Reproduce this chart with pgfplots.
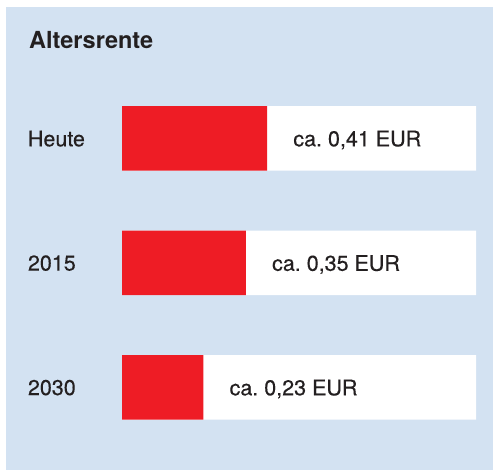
\documentclass[border=0pt]{standalone}
\usepackage{pgfplots}
\pgfplotsset{compat=1.18}
\usepackage{fontspec}
\setmainfont{TeX Gyre Heros}
\newfontfamily\medfont[FakeBold=0.35]{TeX Gyre Heros}
\definecolor{panel}{HTML}{D3E2F2}
\definecolor{rentred}{HTML}{EE1C25}
\definecolor{txt}{HTML}{231F20}

\begin{document}
\begin{tikzpicture}
\useasboundingbox (-6pt,0pt) rectangle (487pt,470pt);
\begin{axis}[
  at={(0pt,0pt)}, anchor=south west,
  scale only axis, width=487pt, height=463pt,
  xbar, bar width=64.5pt, bar shift=0pt,
  xmin=-0.3277, xmax=1.048,
  y dir=reverse, ymin=-1.056, ymax=2.663,
  axis line style={draw=none}, tick style={draw=none},
  axis background/.style={fill=panel},
  xtick=\empty,
  ytick={0,1,2}, yticklabels={Heute,2015,2030},
  yticklabel style={anchor=west, inner sep=0pt, xshift=26pt, text=txt,
    text depth=0pt, font=\fontsize{21.5}{24}\medfont\bfseries\mdseries},
  title={Altersrente},
  title style={at={(0,1)}, anchor=base west, xshift=23pt, yshift=-47.5pt,
    inner sep=0pt, text=txt, font=\fontsize{23.5}{26}\selectfont\bfseries},
  clip=false,
]
\addplot[fill=white, draw=none] coordinates {(1,0) (1,1) (1,2)};
\addplot[fill=rentred, draw=none,
  nodes near coords={ca.\ \pgfmathprintnumber[fixed,fixed zerofill,precision=2,use comma,assume math mode=true]{\pgfplotspointmeta}\ EUR},
  nodes near coords style={anchor=west, xshift=26pt, inner sep=0pt, text depth=0pt,
    text=txt, font=\fontsize{21.5}{24}\medfont}]
  coordinates {(0.41,0) (0.35,1) (0.23,2)};
\end{axis}
\end{tikzpicture}
\end{document}
